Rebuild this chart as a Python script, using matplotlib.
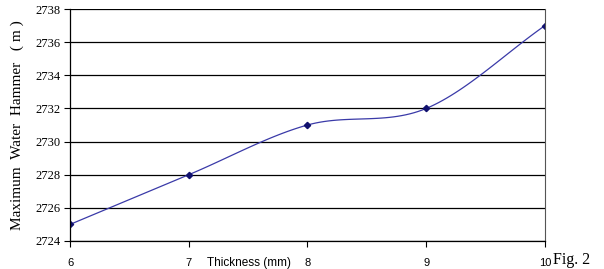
import numpy as np
from matplotlib import pyplot as plt

# data
thickness = [6, 7, 8, 9, 10]
water_hammer = [2725, 2728, 2731, 2732, 2737]
y_ticks = [2724, 2726, 2728, 2730, 2732, 2734, 2736, 2738]


def smooth_curve(x, y, n=30):
    """Catmull-Rom style smoothing, like the spreadsheet 'smoothed line'"""
    x = np.asarray(x, float)
    y = np.asarray(y, float)
    px = np.concatenate([[2*x[0]-x[1]], x, [2*x[-1]-x[-2]]])
    py = np.concatenate([[2*y[0]-y[1]], y, [2*y[-1]-y[-2]]])
    xs, ys = [], []
    for i in range(1, len(px)-2):
        t = np.linspace(0, 1, n)
        for p, out in ((px, xs), (py, ys)):
            p0, p1, p2, p3 = p[i-1], p[i], p[i+1], p[i+2]
            out.extend(0.5*((2*p1) + (-p0+p2)*t + (2*p0-5*p1+4*p2-p3)*t**2
                            + (-p0+3*p1-3*p2+p3)*t**3))
    return np.array(xs), np.array(ys)


fig = plt.figure(figsize=(6.04, 2.69), dpi=100)
ax = fig.add_axes([0.1159, 0.1041, 0.9023-0.1159, 0.9665-0.1041])

sx, sy = smooth_curve(thickness, water_hammer)
ax.plot(sx, sy, color='#3a3aa8', lw=0.9)
ax.plot(thickness, water_hammer, ls='none', marker='D', ms=3.2,
        color='#10106e')

ax.set_xlim(6, 10)
ax.set_ylim(2724, 2738)
ax.set_yticks(y_ticks)
ax.set_xticks(thickness)
ax.set_yticklabels([str(v) for v in y_ticks], family='Liberation Serif',
                   fontsize=9)
ax.set_xticklabels([str(v) for v in thickness], family='Liberation Sans',
                   fontsize=8)
ax.grid(axis='y', color='black', lw=0.9)
ax.tick_params(direction='out', length=4, width=0.8, pad=3)
ax.tick_params(axis='x', pad=8)
for side in ['left', 'bottom']:
    ax.spines[side].set_color('black')
    ax.spines[side].set_linewidth(0.9)
ax.spines['right'].set_color('#555555')
ax.spines['top'].set_visible(False)

fig.text(0.029, 0.535, 'Maximum  Water  Hammer   ( m )', rotation=90,
         ha='center', va='center', family='Liberation Serif', fontsize=11)
fig.text(0.413, 0.022, 'Thickness (mm)', ha='center', va='center',
         family='Liberation Sans', fontsize=8.5)
fig.text(0.915, 0.004, 'Fig. 2', ha='left', va='bottom',
         family='Liberation Serif', fontsize=11.5)

fig.savefig('out.png', dpi=100)
